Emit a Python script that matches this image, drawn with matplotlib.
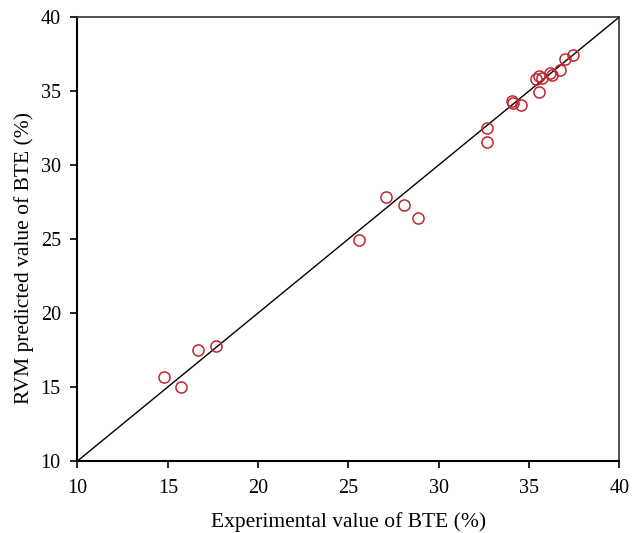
import matplotlib
matplotlib.use('Agg')
import matplotlib.pyplot as plt
import numpy as np

# experimental vs. RVM predicted brake thermal efficiency (%)
bte_experimental = [14.79, 15.73, 16.69, 17.67, 25.59, 27.07, 28.06, 28.85,
                    32.68, 32.68, 34.06, 34.10, 34.54, 35.39, 35.57, 35.70,
                    35.57, 36.16, 36.27, 36.72, 37.01, 37.45]
bte_predicted = [15.66, 15.02, 17.50, 17.77, 24.91, 27.82, 27.30, 26.40,
                 32.52, 31.55, 34.34, 34.17, 34.05, 35.79, 36.01, 35.86,
                 34.91, 36.20, 36.10, 36.42, 37.14, 37.41]
ticks = [10, 15, 20, 25, 30, 35, 40]

plt.rcParams['font.family'] = ['Liberation Serif', 'DejaVu Serif']

fig = plt.figure(figsize=(6.44, 5.33), dpi=100)
ax = fig.add_axes([0.1203, 0.1351, 0.8414, 0.8330])

# perfect agreement line
ax.plot([10, 40], [10, 40], color='black', linewidth=1.0, zorder=2)
ax.plot(bte_experimental, bte_predicted, linestyle='none', marker='o',
        markersize=8, markerfacecolor='none', markeredgecolor='#c0262d',
        markeredgewidth=1.1, zorder=3)

ax.set_xlim(10, 40)
ax.set_ylim(10, 40)
ax.set_xticks(ticks)
ax.set_yticks(ticks)
ax.tick_params(direction='out', length=5, width=1.2, labelsize=14.5,
               top=False, right=False)
ax.tick_params(axis='x', pad=8)
ax.tick_params(axis='y', pad=7)

for side in ['left', 'bottom']:
    ax.spines[side].set_linewidth(1.5)
    ax.spines[side].set_color('black')
for side in ['top', 'right']:
    ax.spines[side].set_linewidth(1.2)
    ax.spines[side].set_color('#333333')

ax.set_xlabel('Experimental value of BTE (%)', fontsize=15.5, labelpad=10)
ax.set_ylabel('RVM predicted value of BTE (%)', fontsize=15.5)
ax.yaxis.set_label_coords(-0.080, 0.457)

fig.savefig('out.png', dpi=100)
